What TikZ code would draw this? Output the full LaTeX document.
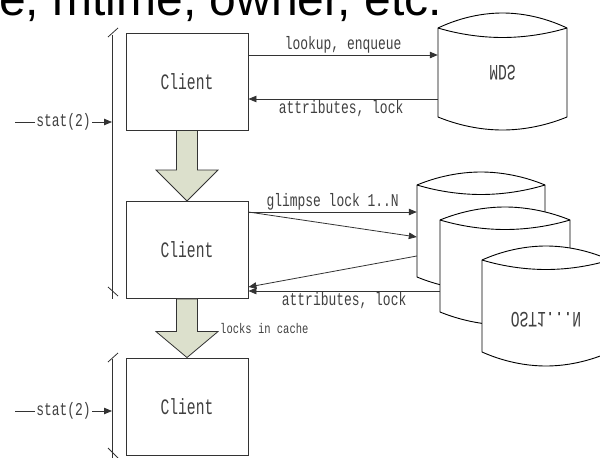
\documentclass[tikz,border=0pt]{standalone}
\usepackage{fontspec}
\setmainfont{Liberation Sans}
\newfontfamily\lblfont[FakeStretch=0.72]{Liberation Mono}
\newfontfamily\bigfont[FakeStretch=0.667]{Liberation Mono}
\newfontfamily\smallfont[FakeStretch=0.75]{Liberation Mono}
\usetikzlibrary{arrows.meta,calc}
\definecolor{ink}{HTML}{333333}
\definecolor{txt}{HTML}{404040}
\definecolor{sage}{HTML}{DCE0CC}
\tikzset{
  clientbox/.style={draw=ink, line width=0.9pt, fill=white, minimum width=122pt, minimum height=97pt, inner sep=0pt,
    font=\bigfont\fontsize{22}{22}\selectfont, text=txt},
  conn/.style={draw=ink, line width=0.8pt, -{Triangle[length=8pt,width=6.5pt]}},
  lbl/.style={font=\lblfont\fontsize{18}{18}\selectfont, text=txt, inner sep=1pt},
  smalllbl/.style={font=\smallfont\fontsize{14}{14}\selectfont, text=txt, inner sep=0pt},
  drumline/.style={draw=black, line width=0.9pt, fill=white},
  bigarrow/.style={draw=ink, line width=0.8pt, fill=sage},
  bracket/.style={draw=ink, line width=0.8pt},
  drumtext/.style={font=\bigfont\fontsize{22}{22}\selectfont, text=txt, inner sep=0pt}
}
% name, L, R, T, B, top bulge, bottom bulge, label
\newcommand\drum[8]{%
  \pgfmathsetmacro\drumMid{(#2+#3)/2}%
  \pgfmathsetmacro\drumW{#3-#2}%
  \pgfmathsetmacro\drumH{#5-#4}%
  \pgfmathsetmacro\drumCy{(#4+#5)/2}%
  \filldraw[drumline] (#2,#4) -- (#2,#5) parabola bend (\drumMid,#5+#7) (#3,#5) -- (#3,#4)
     parabola bend (\drumMid,#4-#6) (#2,#4) -- cycle;
  \draw[drumline, fill=none] (#2,#4) parabola bend (\drumMid,#4+9.5) (#3,#4);
  \node[inner sep=0pt, minimum width=\drumW pt, minimum height=\drumH pt, drumtext] (#1) at (\drumMid,\drumCy) {#8};
}
\newcommand\bigarr[3]{%
  \filldraw[bigarrow] let \p1=(#1.south), \p2=(#2.north) in
    (\x1-10.5pt,\y1) -- (\x1-10.5pt,\y2+#3) -- (\x1-31pt,\y2+#3) -- (\x2,\y2)
    -- (\x1+31pt,\y2+#3) -- (\x1+10.5pt,\y2+#3) -- (\x1+10.5pt,\y1) -- cycle;
}
\begin{document}
\begin{tikzpicture}[x=1pt,y=-1pt]
\useasboundingbox (0,0) rectangle (600,458);
\begin{scope}
\clip (0,0) rectangle (600,458);
% title fragment
\node[anchor=base west, inner sep=0pt, font=\fontsize{48}{48}\selectfont, text=black] (title) at (-1,15) {e, mtime, owner, etc.};

% clients
\node[clientbox] (c1) at (187,81.5) {Client};
\node[clientbox] (c2) at (187,250) {Client};
\node[clientbox] (c3) at (187,406.5) {Client};

% storage
\drum{mds}{438}{567}{28}{117}{15}{13}{\scalebox{1}[-1]{MDS}}
\drum{ostA}{417}{545}{185}{277}{13}{13}{}
\drum{ostB}{440}{570}{220}{312}{13}{13}{}
\drum{ostC}{482}{610}{260}{352}{14}{14}{}
\node[drumtext] (ostlbl) at (546,320) {\scalebox{1}[-1]{OST1...N}};

% big arrows
\bigarr{c1}{c2}{31pt}
\bigarr{c2}{c3}{26pt}

% brackets
\coordinate (b1t) at (112,35);
\coordinate (b1b) at (112,299);
\draw[bracket] (b1t) -- (b1b);
\draw[bracket] (108,37) -- (118,28);
\draw[bracket] (108,287) -- (118,296);
\coordinate (b2t) at (112,359);
\coordinate (b2b) at (112,458);
\draw[bracket] (b2t) -- (b2b);
\draw[bracket] (108,362) -- (118,353);
\draw[bracket] (108,448) -- (118,458);

% stat(2) inputs
\coordinate (s1) at (15,122);
\coordinate (s1e) at (112,122);
\draw[conn] (s1) -- node[lbl, fill=white, inner sep=1.5pt] (st1) {stat(2)} (s1e);
\coordinate (s2) at (15,411);
\coordinate (s2e) at (112,411);
\draw[conn] (s2) -- node[lbl, fill=white, inner sep=1.5pt] (st2) {stat(2)} (s2e);

% MDS messages
\draw[conn] (c1.east |- 0,55) -- node[lbl, above] (l1) {lookup, enqueue} (mds.west |- 0,55);
\draw[conn] (mds.west |- 0,99) -- node[lbl, below, xshift=-2pt] (l2) {attributes, lock} (c1.east |- 0,99);

% OST messages
\draw[conn] (c2.east |- 0,212) -- node[lbl, above] (l3) {glimpse lock 1..N} (ostA.west |- 0,212);
\draw[conn] (c2.east |- 0,212) -- (ostA.west |- 0,237);
\draw[conn] (ostA.west |- 0,256) -- (c2.east |- 0,287);
\draw[conn] (ostB.west |- 0,291) -- node[lbl, below] (l4) {attributes, lock} (c2.east |- 0,291);

\node[smalllbl, anchor=west] (lc) at (220,328) {locks in cache};
\end{scope}
\end{tikzpicture}
\end{document}
